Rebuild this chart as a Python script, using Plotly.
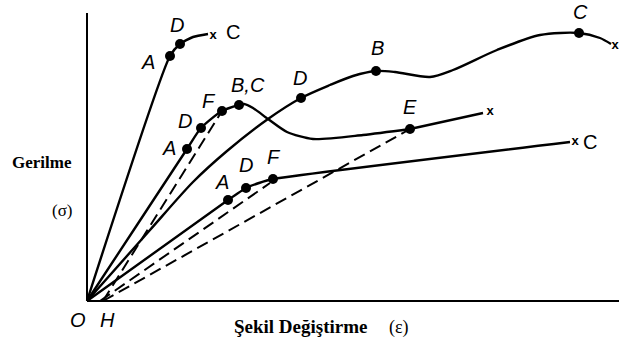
import plotly.graph_objects as go

# Values (strain, stress) in arbitrary units, origin at O
c1_eps = [0, 83, 93, 106, 121]
c1_sig = [0, 245, 257, 264, 267]

c2_eps = [0, 50, 100, 114, 135, 152, 157, 166, 181, 200, 226, 276, 323]
c2_sig = [0, 76, 152, 173, 190, 196, 197, 193, 182, 169, 162, 166, 172]
c2_tail_eps = [323, 396]
c2_tail_sig = [172, 188]

c3_eps = [0, 63, 106, 140, 181, 214, 243, 266, 289, 308, 343, 366, 410, 453, 492, 513, 524]
c3_sig = [0, 71, 119, 150, 182, 203, 216, 225, 230, 229, 224, 231, 251, 266, 268, 263, 257]

c4_eps = [0, 141, 159, 172, 186, 483]
c4_sig = [0, 101, 113, 118, 122, 159]

# unloading / offset (dashed) lines
dash_eps = [[16, 135], [13, 183], [16, 323]]
dash_sig = [[0, 190], [0, 118], [0, 172]]

# marked points
dot_eps = [83, 93, 100, 114, 135, 152, 214, 289, 492, 141, 159, 186, 323]
dot_sig = [245, 257, 152, 173, 190, 196, 203, 230, 268, 101, 113, 122, 172]

# fracture marks
x_eps = [126, 403, 488, 528]
x_sig = [265, 189, 159, 255]

# point letters
lab_text = ["A", "D", "C", "A", "D", "F", "B,C", "E", "D", "B", "C", "A", "D", "F", "C", "O", "H"]
lab_eps = [61, 90, 146, 82, 98, 122, 161, 323, 213, 290, 493, 135, 159, 187, 503, -9, 20]
lab_sig = [239, 276, 269, 153, 180, 200, 216, 194, 223, 253, 289, 119, 136, 144, 159, -19, -19]
lab_italic = [True, True, False, True, True, True, True, True, True, True, True, True, True, True, False, True, True]

# axes extents
axis_eps_max = 532
axis_sig_max = 288

fig = go.Figure()

LW = 2.4
fig.add_trace(go.Scatter(x=[0, 0], y=[0, axis_sig_max], mode="lines",
                         line=dict(color="black", width=2), hoverinfo="skip"))
fig.add_trace(go.Scatter(x=[0, axis_eps_max], y=[0, 0], mode="lines",
                         line=dict(color="black", width=2), hoverinfo="skip"))

fig.add_trace(go.Scatter(x=c1_eps, y=c1_sig, mode="lines",
                         line=dict(color="black", width=LW, shape="spline", smoothing=0.6)))
fig.add_trace(go.Scatter(x=c2_eps, y=c2_sig, mode="lines",
                         line=dict(color="black", width=LW, shape="spline", smoothing=0.7)))
fig.add_trace(go.Scatter(x=c2_tail_eps, y=c2_tail_sig, mode="lines",
                         line=dict(color="black", width=LW)))
fig.add_trace(go.Scatter(x=c3_eps, y=c3_sig, mode="lines",
                         line=dict(color="black", width=LW, shape="spline", smoothing=0.8)))
fig.add_trace(go.Scatter(x=c4_eps, y=c4_sig, mode="lines",
                         line=dict(color="black", width=LW, shape="spline", smoothing=0.4)))

for ex, sy in zip(dash_eps, dash_sig):
    fig.add_trace(go.Scatter(x=ex, y=sy, mode="lines",
                             line=dict(color="black", width=2, dash="12px,6px")))

fig.add_trace(go.Scatter(x=dot_eps, y=dot_sig, mode="markers",
                         marker=dict(color="black", size=10)))

fig.add_trace(go.Scatter(x=x_eps, y=x_sig, mode="text", text=["<b>x</b>"] * len(x_eps),
                         textfont=dict(family="Liberation Sans", size=13, color="black")))

for t, ex, sy, it in zip(lab_text, lab_eps, lab_sig, lab_italic):
    fig.add_annotation(x=ex, y=sy, text=(f"<i>{t}</i>" if it else t), showarrow=False,
                       font=dict(family="Liberation Sans", size=20, color="black"))

fig.add_annotation(x=-45, y=139, text="<b>Gerilme</b>", showarrow=False,
                   font=dict(family="Liberation Serif", size=17, color="black"))
fig.add_annotation(x=-25, y=91, text="(σ)", showarrow=False,
                   font=dict(family="Liberation Serif", size=17, color="black"))
fig.add_annotation(x=214, y=-25, text="<b>Şekil Değiştirme</b>", showarrow=False,
                   font=dict(family="Liberation Serif", size=19, color="black"))
fig.add_annotation(x=312, y=-26, text="(ε)", showarrow=False,
                   font=dict(family="Liberation Serif", size=18, color="black"))

fig.update_layout(
    width=619, height=344,
    margin=dict(l=0, r=0, t=0, b=0),
    paper_bgcolor="white", plot_bgcolor="white",
    showlegend=False,
    xaxis=dict(range=[-87, 532], visible=False, fixedrange=True),
    yaxis=dict(range=[-43, 301], visible=False, fixedrange=True),
)

fig.write_html("out.html", config={"displayModeBar": False},
               post_script="document.body.style.margin='0';document.body.style.overflow='hidden';")
